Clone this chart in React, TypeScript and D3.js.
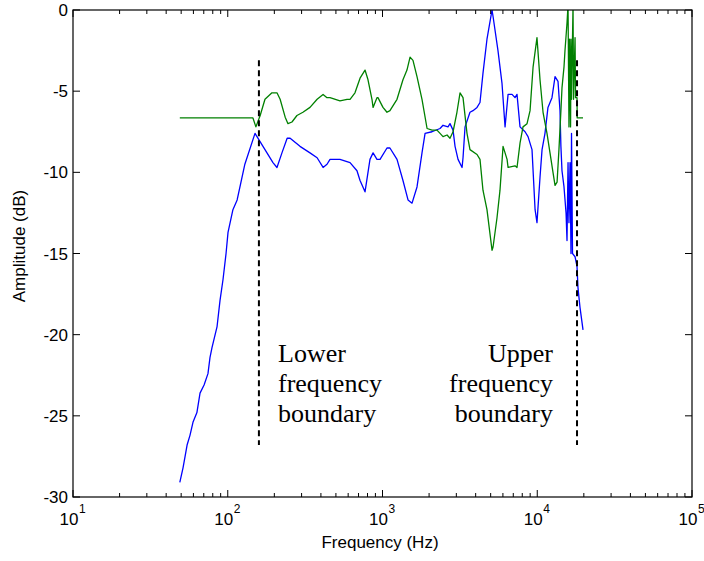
import React from "react";
import * as d3 from "d3";

const blueFreq = [49, 51.4, 53, 54.6, 57, 59.6, 63.2, 66.2, 70.3, 74.5, 76.8, 79.1, 85.3, 89.1, 93.2, 97.5, 100.4, 108, 115, 129, 150, 196, 208, 224, 242, 253, 293, 340, 378, 413, 438, 458, 531, 617, 684, 716, 771, 830, 869, 921, 964, 1069, 1117, 1241, 1356, 1462, 1552, 1671, 1800, 1884, 2090, 2354, 2461, 2651, 2730, 2857, 2943, 3077, 3267, 3314, 3415, 3675, 3843, 4081, 4266, 4459, 4733, 5102, 5181, 5575, 5916, 6194, 6478, 6873, 7184, 7400, 7739, 8340, 8718, 9250, 9683, 9960, 10420, 10740, 11220, 11730, 12450, 13030, 13620, 14030, 14220, 14450, 14890, 15350, 15570, 15810, 16030, 16290, 16520, 16650, 16900, 17550, 18070, 18330, 18880, 19760];
const blueDb = [-29.1, -28.2, -27.5, -26.8, -26.2, -25.4, -24.8, -23.6, -23.1, -22.4, -21.4, -20.8, -19.5, -17.9, -16.6, -15.0, -13.7, -12.3, -11.7, -9.5, -7.6, -9.4, -9.7, -8.8, -7.9, -7.9, -8.4, -8.8, -9.1, -9.7, -9.5, -9.2, -9.2, -9.4, -9.9, -10.5, -11.2, -9.2, -8.8, -9.2, -9.2, -8.5, -8.5, -9.2, -10.5, -11.7, -11.9, -10.9, -8.8, -7.6, -7.5, -7.3, -7.1, -7.2, -7.0, -7.4, -8.4, -9.2, -9.7, -9.1, -7.2, -6.3, -6.2, -6.0, -5.7, -3.9, -1.8, 0, -0.4, -2.5, -4.5, -7.2, -5.2, -5.2, -5.4, -5.2, -7.2, -7.5, -7.8, -8.6, -12.3, -13.1, -10.3, -8.6, -7.6, -6.0, -5.4, -4.1, -4.4, -6.2, -8.4, -9.9, -10.9, -12.5, -14.2, -9.4, -13.1, -9.4, -15.0, -7.6, -15.0, -15.2, -15.8, -17.1, -18.3, -19.7];

const greenFreq = [49, 145.5, 152, 162, 174, 193, 208, 218, 235, 245, 260, 280, 306, 340, 378, 413, 438, 458, 531, 590, 617, 664, 716, 771, 806, 855, 869, 921, 935, 1007, 1069, 1117, 1241, 1356, 1439, 1507, 1574, 1671, 1800, 1941, 2090, 2250, 2354, 2461, 2613, 2730, 2857, 3027, 3170, 3314, 3516, 3675, 4081, 4266, 4459, 4733, 5102, 5181, 5495, 5745, 6012, 6383, 6478, 7184, 7400, 7739, 8091, 8590, 8985, 9400, 9960, 10420, 10900, 11560, 12090, 12640, 13030, 13430, 13810, 14220, 14450, 14890, 15110, 15570, 15810, 16030, 16160, 16420, 16520, 16650, 17030, 17160, 17550, 17680, 18070, 18120, 19760];
const greenDb = [-6.65, -6.65, -7.2, -6.5, -5.5, -5.1, -5.1, -5.5, -6.6, -7.0, -6.9, -6.5, -6.3, -6.0, -5.5, -5.2, -5.4, -5.4, -5.6, -5.5, -5.5, -5.1, -4.2, -3.7, -4.3, -5.5, -6.0, -5.4, -5.4, -6.0, -6.3, -6.2, -5.5, -4.3, -3.7, -2.9, -3.1, -4.1, -5.5, -7.3, -7.4, -7.4, -7.6, -7.8, -7.7, -7.9, -7.5, -6.3, -5.1, -5.4, -7.6, -8.6, -8.9, -9.2, -11.1, -12.3, -14.8, -14.6, -12.8, -11.1, -8.4, -9.2, -9.7, -9.6, -9.7, -8.2, -7.2, -7.0, -6.2, -3.5, -1.7, -4.3, -6.3, -7.6, -8.8, -10.0, -10.8, -10.6, -8.6, -6.2, -4.8, -3.5, -2.5, -0.8, 0.3, -7.2, -1.8, -7.2, -1.8, -5.5, 0.3, -5.5, -1.7, -5.4, -5.4, -6.65, -6.65];

const boundaryFreqs = [159, 18070];
const boundaryTop = -3.1;
const boundaryBottom = -26.8;

const yTicks = [0, -5, -10, -15, -20, -25, -30];
const xDecades = [1, 2, 3, 4, 5];

const lowerLabel = ["Lower", "frequency", "boundary"];
const upperLabel = ["Upper", "frequency", "boundary"];

const W = 704, H = 561;
const L = 73, R = 692, T = 10, B = 497;

export default function App() {
  const x = d3.scaleLog().domain([10, 100000]).range([L, R]);
  const y = d3.scaleLinear().domain([-30, 0]).range([B, T]);
  const line = d3.line<[number, number]>().x(d => x(d[0])).y(d => y(d[1]));
  const blue = blueFreq.map((f, i) => [f, blueDb[i]] as [number, number]);
  const green = greenFreq.map((f, i) => [f, greenDb[i]] as [number, number]);

  const minor: number[] = [];
  for (let e = 1; e < 5; e++) for (let m = 2; m <= 9; m++) minor.push(m * Math.pow(10, e));

  const tickFont = "Liberation Sans, Arial, sans-serif";
  const serif = "Liberation Serif, Times New Roman, serif";
  return (
    <svg width={W} height={H} style={{ position: "absolute", left: 0, top: 0, background: "#fff" }}>
      <defs>
        <clipPath id="plot">
          <rect x={L} y={T} width={R - L} height={B - T} />
        </clipPath>
      </defs>
      <g clipPath="url(#plot)" fill="none" strokeWidth={1.3} strokeLinejoin="round">
        <path d={line(blue) || ""} stroke="#0000ff" />
        <path d={line(green) || ""} stroke="#008000" />
      </g>
      {boundaryFreqs.map((f, i) => (
        <line key={i} x1={x(f)} x2={x(f)} y1={y(boundaryTop)} y2={y(boundaryBottom)} stroke="#000" strokeWidth={2} strokeDasharray="6,4" />
      ))}
      <rect x={L} y={T} width={R - L} height={B - T} fill="none" stroke="#000" strokeWidth={1.2} />
      {minor.map((f, i) => (
        <g key={i} stroke="#000" strokeWidth={1}>
          <line x1={x(f)} x2={x(f)} y1={B} y2={B - 4} />
          <line x1={x(f)} x2={x(f)} y1={T} y2={T + 4} />
        </g>
      ))}
      {xDecades.map((e) => (
        <g key={e}>
          <line x1={x(Math.pow(10, e))} x2={x(Math.pow(10, e))} y1={B} y2={B - 7} stroke="#000" />
          <line x1={x(Math.pow(10, e))} x2={x(Math.pow(10, e))} y1={T} y2={T + 7} stroke="#000" />
          <text x={x(Math.pow(10, e)) - 4} y={525} fontFamily={tickFont} fontSize={17} textAnchor="middle">10</text>
          <text x={x(Math.pow(10, e)) + 6} y={513} fontFamily={tickFont} fontSize={12} textAnchor="start">{e}</text>
        </g>
      ))}
      {yTicks.map((v) => (
        <g key={v}>
          <line x1={L} x2={L + 7} y1={y(v)} y2={y(v)} stroke="#000" />
          <line x1={R} x2={R - 7} y1={y(v)} y2={y(v)} stroke="#000" />
          <text x={L - 5} y={y(v)} dy="0.36em" fontFamily={tickFont} fontSize={17} textAnchor="end">{v}</text>
        </g>
      ))}
      <text x={380} y={548} fontFamily={tickFont} fontSize={17} textAnchor="middle">Frequency (Hz)</text>
      <text transform={`translate(25,246) rotate(-90)`} fontFamily={tickFont} fontSize={17} textAnchor="middle">Amplitude (dB)</text>
      {lowerLabel.map((s, i) => (
        <text key={s} x={278} y={362 + i * 30} fontFamily={serif} fontSize={26} textAnchor="start">{s}</text>
      ))}
      {upperLabel.map((s, i) => (
        <text key={s} x={553} y={362 + i * 30} fontFamily={serif} fontSize={26} textAnchor="end">{s}</text>
      ))}
    </svg>
  );
}
